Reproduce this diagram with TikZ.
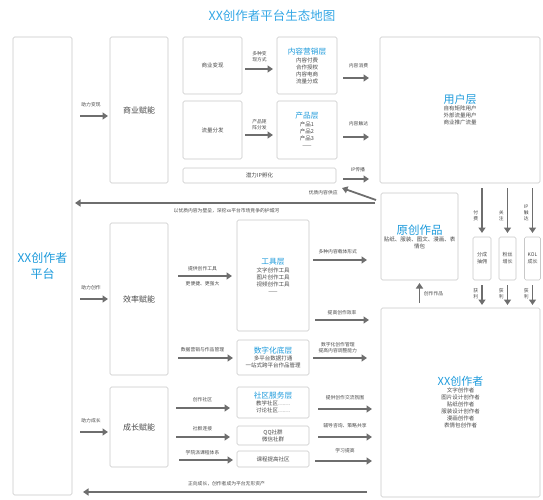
\documentclass[tikz,border=0pt]{standalone}
\usepackage{fontspec}
\setmainfont{Noto Sans CJK SC}
\usetikzlibrary{arrows.meta}

\definecolor{linegray}{HTML}{C8C8C8}
\definecolor{arrgray}{HTML}{6E6E6E}
\definecolor{txtgray}{HTML}{4A4A4A}
\definecolor{hdblue}{HTML}{1E9BDC}
\definecolor{ttlblue}{HTML}{35A7E5}

\newcommand{\hdfont}[1]{{\fontsize{7.7}{9}\selectfont\color{hdblue}#1}}
\newcommand{\bigfont}[1]{{\fontsize{11}{13}\selectfont\color{hdblue}#1}}

\begin{document}
\begin{tikzpicture}[x=1pt,y=-1pt,
  box/.style={draw=linegray,line width=0.6pt,rounded corners=1.5pt,fill=white,
    inner sep=1pt,outer sep=0pt,align=center,text=txtgray,font=\fontsize{5.5}{7}\selectfont},
  lbl/.style={text=txtgray,font=\fontsize{4.8}{6}\selectfont,align=center,inner sep=0.5pt},
  arr/.style={draw=arrgray,line width=1.8pt,-{Triangle[length=5.5pt,width=7pt]}},
]
\useasboundingbox (0,0) rectangle (543,500);

\node[text=ttlblue,font=\fontsize{12.5}{14}\selectfont] (title) at (272,16) {XX创作者平台生态地图};

% platform and the three enabling blocks
\node[box,minimum width=59pt,minimum height=458pt,text=hdblue,font=\fontsize{12}{16}\selectfont] (plat) at (42.5,266) {XX创作者\\平台};
\node[box,minimum width=58pt,minimum height=146pt,font=\fontsize{8}{10}\selectfont] (biz) at (139,110) {商业赋能};
\node[box,minimum width=58pt,minimum height=152pt,font=\fontsize{8}{10}\selectfont] (eff) at (139,299) {效率赋能};
\node[box,minimum width=58pt,minimum height=80pt,font=\fontsize{8}{10}\selectfont] (grow) at (139,427) {成长赋能};

% upper part
\node[box,minimum width=59pt,minimum height=57pt] (cash) at (212.5,65.5) {商业变现};
\node[box,minimum width=59pt,minimum height=58pt] (flow) at (212.5,130) {流量分发};
\node[box,minimum width=153pt,minimum height=15pt] (ipinc) at (259.5,175.5) {潜力IP孵化};
\node[box,minimum width=60pt,minimum height=57pt] (mkt) at (307,65.5) {\hdfont{内容营销层}\\[1pt]内容付费\\合作授权\\内容电商\\流量分成};
\node[box,minimum width=60pt,minimum height=58pt] (prod) at (307,130) {\hdfont{产品层}\\[1pt]产品1\\产品2\\产品3\\——};
\node[box,minimum width=160pt,minimum height=146pt] (user) at (460,110) {\bigfont{用户层}\\自有矩阵用户\\外部流量用户\\商业推广流量};

% works and creators
\node[box,minimum width=77pt,minimum height=87pt] (orig) at (419.5,236.5) {{\fontsize{11.5}{13}\selectfont\color{hdblue}原创作品}\\贴纸、服装、图文、漫画、表\\情包};
\node[box,minimum width=18pt,minimum height=43pt,font=\fontsize{5}{7}\selectfont] (share) at (482,258.5) {分成\\抽佣};
\node[box,minimum width=17pt,minimum height=43pt,font=\fontsize{5}{7}\selectfont] (fans) at (507.5,258.5) {粉丝\\增长};
\node[box,minimum width=16pt,minimum height=43pt,font=\fontsize{5}{7}\selectfont] (kol) at (532.5,258.5) {KOL\\成长};
\node[box,minimum width=159pt,minimum height=189pt] (creator) at (460.5,402.5) {\bigfont{XX创作者}\\文字创作者\\图片设计创作者\\贴纸创作者\\服装设计创作者\\漫画创作者\\表情包创作者};

% middle and lower part
\node[box,minimum width=72pt,minimum height=111pt] (tool) at (273,275.5) {\hdfont{工具层}\\[1pt]文字创作工具\\图片创作工具\\视频创作工具\\——};
\node[box,minimum width=72pt,minimum height=35pt] (digi) at (273,357.5) {\hdfont{数字化底层}\\多平台数据打通\\一站式跨平台作品管理};
\node[box,minimum width=72pt,minimum height=31pt] (comm) at (273,402.5) {\hdfont{社区服务层}\\教学社区……\\讨论社区……};
\node[box,minimum width=72pt,minimum height=19pt] (qq) at (273,435.5) {QQ社群\\微信社群};
\node[box,minimum width=72pt,minimum height=16pt] (course) at (273,459) {课程提高社区};

% platform -> enabling
\draw[arr,shorten <=8pt,shorten >=2pt] (plat.east|-0,116) -- (biz.west|-0,116) node[midway,above=8pt,lbl]{助力变现};
\draw[arr,shorten <=8pt,shorten >=2pt] (plat.east|-0,299) -- (eff.west|-0,299) node[midway,above=8pt,lbl]{助力创作};
\draw[arr,shorten <=8pt,shorten >=2pt] (plat.east|-0,432) -- (grow.west|-0,432) node[midway,above=8pt,lbl]{助力成长};

% upper arrows
\draw[arr,shorten <=3pt,shorten >=4pt] (cash.east|-0,69) -- (mkt.west|-0,69) node[midway,above=5.5pt,lbl]{多种变\\现方式};
\draw[arr,shorten <=3pt,shorten >=4pt] (flow.east|-0,135) -- (prod.west|-0,135) node[midway,above=3.5pt,lbl]{产品矩\\阵分发};
\draw[arr,shorten <=6pt,shorten >=11pt] (mkt.east|-0,78) -- (user.west|-0,78) node[midway,above=8.5pt,lbl]{内容消费};
\draw[arr,shorten <=6pt,shorten >=11pt] (prod.east|-0,137) -- (user.west|-0,137) node[midway,above=9.5pt,lbl]{内容触达};
\draw[arr,shorten <=7pt,shorten >=11pt] (ipinc.east|-0,179) -- (user.west|-0,179) node[midway,above=5.5pt,lbl]{IP传播};
\coordinate (supply) at (342,188);
\draw[arr] ([xshift=-5pt,yshift=-7pt]orig.north west) -- (supply) node[pos=1,anchor=north east,xshift=-3pt,yshift=-1pt,lbl]{优质内容供应};
\draw[arr,shorten <=6pt,shorten >=3pt] (orig.west|-0,203) -- (plat.east|-0,203) node[midway,below=4.5pt,lbl]{以优质内容为壁垒，深挖xx平台市场竞争的护城河};

% user -> creator
\draw[arr,shorten <=5pt,shorten >=4pt] (user.south-|share.north) -- (share.north) node[pos=0.6,left=2.5pt,lbl]{付\\费};
\draw[arr,shorten <=5pt,shorten >=4pt] (user.south-|fans.north) -- (fans.north) node[pos=0.6,left=2.5pt,lbl]{关\\注};
\draw[arr,shorten <=5pt,shorten >=4pt] (user.south-|kol.north) -- (kol.north) node[pos=0.55,left=2.5pt,lbl]{IP\\触\\达};
\draw[arr,shorten <=5pt,shorten >=3pt] (share.south) -- (share.south|-creator.north) node[midway,left=2.5pt,lbl]{获\\利};
\draw[arr,shorten <=5pt,shorten >=3pt] (fans.south) -- (fans.south|-creator.north) node[midway,left=2.5pt,lbl]{获\\利};
\draw[arr,shorten <=5pt,shorten >=3pt] (kol.south) -- (kol.south|-creator.north) node[midway,left=2.5pt,lbl]{获\\利};
\draw[arr,shorten <=5pt,shorten >=3pt] (creator.north-|orig.south) -- (orig.south) node[midway,right=3pt,lbl]{创作作品};

% efficiency
\draw[arr,shorten <=10pt,shorten >=5pt] (eff.east|-0,276) -- (tool.west|-0,276)
  node[midway,above=3.5pt,lbl]{提供创作工具} node[midway,below=4.5pt,lbl]{更便捷、更强大};
\draw[arr,shorten <=10pt,shorten >=4pt] (eff.east|-0,358) -- (digi.west|-0,358) node[midway,above=4.5pt,lbl]{数据营销与作品管理};
\draw[arr,shorten <=4pt,shorten >=14pt] (tool.east|-0,260) -- (orig.west|-0,260) node[pos=0.4,above=4.5pt,lbl]{多种内容载体形式};
\draw[arr,shorten <=6pt,shorten >=12pt] (tool.east|-0,320) -- (creator.west|-0,320) node[pos=0.46,above=3.5pt,lbl]{提高创作效率};
\draw[arr,shorten <=4pt,shorten >=14pt] (digi.east|-0,358) -- (creator.west|-0,358) node[pos=0.4,above=4pt,lbl]{数字化创作管理\\提高内容调整能力};

% growth
\draw[arr,shorten <=8pt,shorten >=7pt] (grow.east|-0,408) -- (comm.west|-0,408) node[midway,above=4.5pt,lbl]{创作社区};
\draw[arr,shorten <=8pt,shorten >=7pt] (grow.east|-0,437) -- (qq.west|-0,437) node[midway,above=4.5pt,lbl]{社群连接};
\draw[arr,shorten <=11pt,shorten >=4pt] (grow.east|-0,460) -- (course.west|-0,460) node[midway,above=4pt,lbl]{学院派课程体系};
\draw[arr,shorten <=9pt,shorten >=9pt] (comm.east|-0,409) -- (creator.west|-0,409) node[midway,above=7.5pt,lbl]{提供创作交流氛围};
\draw[arr,shorten <=9pt,shorten >=9pt] (qq.east|-0,437) -- (creator.west|-0,437) node[midway,above=7.5pt,lbl]{辅导咨询、策略共享};
\draw[arr,shorten <=6pt,shorten >=9pt] (course.east|-0,461) -- (creator.west|-0,461) node[midway,above=6.5pt,lbl]{学习提高};
\draw[arr,shorten <=14pt,shorten >=11pt] (creator.west|-0,492) -- (plat.east|-0,492) node[midway,above=4.5pt,lbl]{正向成长，创作者成为平台无形资产};

\end{tikzpicture}
\end{document}
